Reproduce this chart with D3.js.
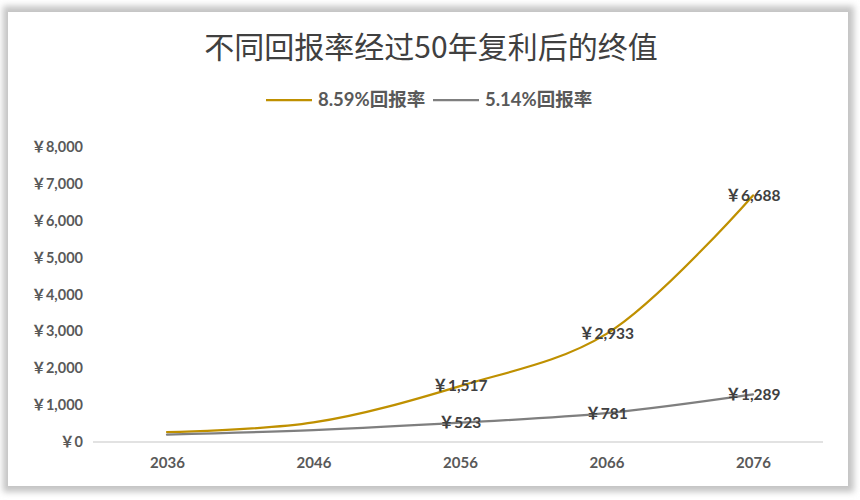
<!DOCTYPE html>
<html lang="zh">
<head>
<meta charset="UTF-8">
<title>不同回报率经过50年复利后的终值</title>
<script src="https://d3js.org/d3.v7.min.js"></script>
<style>
    body { margin: 0; background: #fff; }
    svg { display: block; }
    text { font-family: Lato, "Noto Sans CJK SC", sans-serif; }
</style>
</head>
<body>
<svg width="860" height="500"></svg>
<script>
    // chart data
    const years = ["2036", "2046", "2056", "2066", "2076"];
    const high = [270, 530, 1517, 2933, 6688];   // 8.59%回报率
    const low = [200, 322, 523, 781, 1289];      // 5.14%回报率
    const seriesNames = ["8.59%回报率", "5.14%回报率"];
    const seriesColors = ["#BF9000", "#7F7F7F"];
    const yTicks = [0, 1000, 2000, 3000, 4000, 5000, 6000, 7000, 8000];
    const labelFrom = 2; // data labels only on the last three points

    const svg = d3.select("svg");

    // card with a gray blurred frame behind it
    const defs = svg.append("defs");
    defs.append("filter").attr("id", "blur")
        .attr("x", "-5%").attr("y", "-5%").attr("width", "110%").attr("height", "110%")
        .append("feGaussianBlur").attr("stdDeviation", 3);
    svg.append("rect").attr("x", 3).attr("y", 6).attr("width", 851).attr("height", 486)
        .attr("fill", "#c4c4c4").attr("filter", "url(#blur)");
    svg.append("rect").attr("x", 8).attr("y", 12).attr("width", 840).attr("height", 474)
        .attr("fill", "#fff");

    // title
    svg.append("text").attr("x", 431).attr("y", 58).attr("text-anchor", "middle")
        .style("font-family", "'Noto Sans CJK SC', sans-serif")
        .attr("font-size", 30).attr("fill", "#404040")
        .text("不同回报率经过50年复利后的终值");

    // legend
    const legendX = [266, 433];
    seriesNames.forEach((name, i) => {
        const g = svg.append("g").attr("transform", `translate(${legendX[i]},100)`);
        g.append("line").attr("x1", 0).attr("x2", 46).attr("y1", 0).attr("y2", 0)
            .attr("stroke", seriesColors[i]).attr("stroke-width", 2.25);
        g.append("text").attr("x", 52).attr("y", 6)
            .style("font-family", "Lato, 'Noto Sans CJK SC', sans-serif")
            .attr("font-size", 18.5).attr("font-weight", "bold").attr("fill", "#595959")
            .text(name);
    });

    // scales
    const x = d3.scalePoint().domain(years).range([167, 753]);
    const y = d3.scaleLinear().domain([0, 8000]).range([442, 147]);

    const fmt = v => "￥" + d3.format(",")(v);

    // y axis labels (no line, no grid)
    svg.append("g").selectAll("text").data(yTicks).join("text")
        .attr("x", 83).attr("y", d => y(d)).attr("dy", "0.35em")
        .attr("text-anchor", "end").attr("font-size", 14.5).attr("font-weight", "bold")
        .attr("fill", "#595959").text(fmt);

    // x axis
    const xAxis = svg.append("g").attr("transform", "translate(0,442)")
        .call(d3.axisBottom(x).tickSize(0).tickPadding(15));
    xAxis.select(".domain").remove();
    xAxis.append("line").attr("x1", 93).attr("x2", 823)
        .attr("stroke", "#d9d9d9").attr("stroke-width", 1.5);
    xAxis.selectAll(".tick text")
        .style("font-family", "Lato, sans-serif")
        .attr("font-size", 15).attr("font-weight", "bold").attr("fill", "#595959");

    // lines
    const line = d3.line()
        .x((d, i) => x(years[i]))
        .y(d => y(d))
        .curve(d3.curveCatmullRom.alpha(0.5));

    [high, low].forEach((vals, i) => {
        svg.append("path").datum(vals)
            .attr("d", line).attr("fill", "none")
            .attr("stroke", seriesColors[i]).attr("stroke-width", 2.25)
            .attr("stroke-linecap", "round");
    });

    // data labels, centered on points
    [high, low].forEach(vals => {
        svg.append("g").selectAll("text")
            .data(vals.map((v, i) => ({ v, i })).filter(d => d.i >= labelFrom))
            .join("text")
            .attr("x", d => x(years[d.i])).attr("y", d => y(d.v)).attr("dy", "0.35em")
            .attr("text-anchor", "middle").attr("font-size", 15.5).attr("font-weight", "bold")
            .attr("fill", "#404040").text(d => fmt(d.v));
    });
</script>
</body>
</html>
